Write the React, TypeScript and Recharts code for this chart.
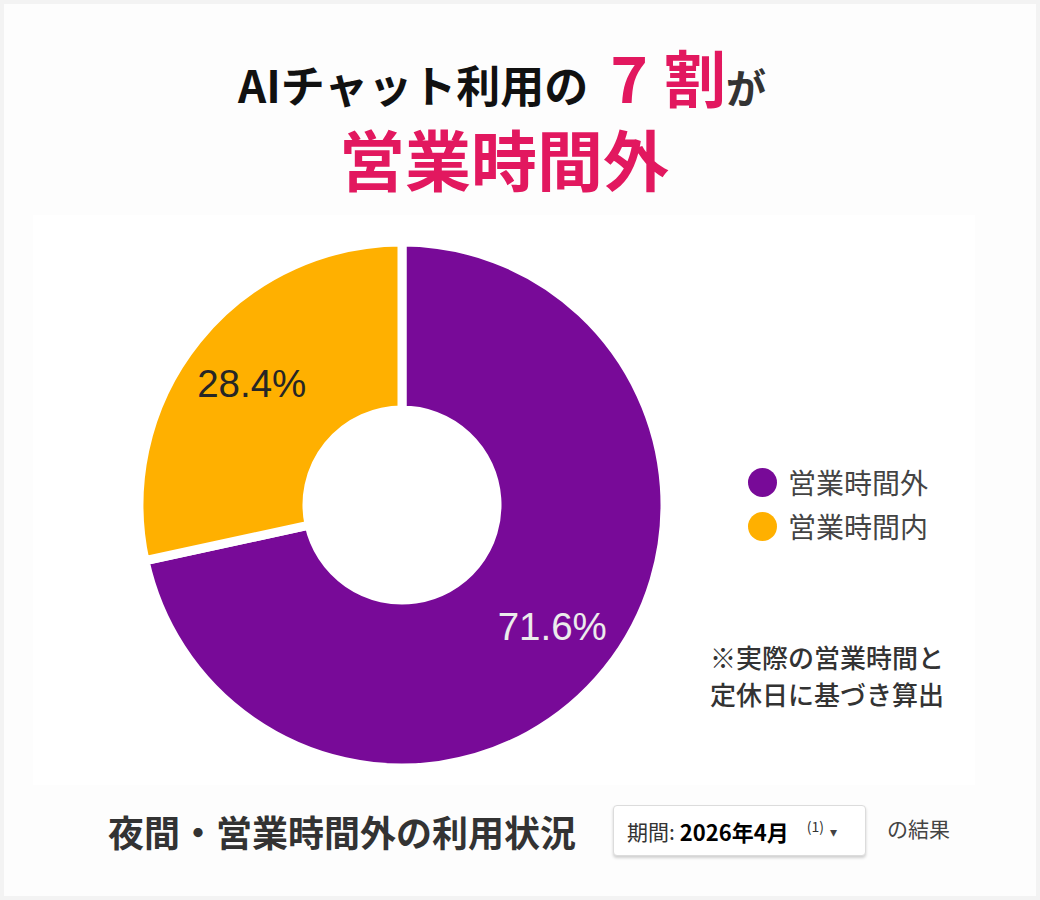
import React from 'react';
import { PieChart, Pie, Cell, Legend } from 'recharts';

// share of AI chat usage, in percent
const categories = ['営業時間外', '営業時間内'];
const shares = [71.6, 28.4];
const sliceColors = ['#780a98', '#ffb000'];
const labelColors = ['#ececec', '#262626'];

const JP = '"Noto Sans CJK JP", "Noto Sans", sans-serif';
const PINK = '#e2185f';
const RAD = Math.PI / 180;

const data = categories.map((name, i) => ({ name, value: shares[i] }));

const renderLabel = (props: any) => {
  const { cx, cy, midAngle, index, value } = props;
  const r = 193;
  const x = cx + r * Math.cos(-midAngle * RAD);
  const y = cy + r * Math.sin(-midAngle * RAD);
  return (
    <text
      x={x}
      y={y}
      fill={labelColors[index]}
      textAnchor="middle"
      dominantBaseline="central"
      fontFamily='"Liberation Sans", Arial, sans-serif'
      fontSize={38.5}
    >
      {value.toFixed(1)}%
    </text>
  );
};

const LegendList = (props: any) => {
  const items = [...(props.payload || [])].sort(
    (a: any, b: any) => categories.indexOf(a.value) - categories.indexOf(b.value)
  );
  return (
    <div>
      {items.map((p: any) => {
        const i = categories.indexOf(p.value);
        return (
          <div key={p.value} style={{ display: 'flex', alignItems: 'center', height: 44 }}>
            <span
              style={{
                width: 29,
                height: 29,
                borderRadius: '50%',
                background: sliceColors[i],
                marginRight: 11,
                display: 'inline-block',
              }}
            />
            <span style={{ fontSize: 28, color: '#444', fontFamily: JP, lineHeight: 1 }}>{p.value}</span>
          </div>
        );
      })}
    </div>
  );
};

export default function App() {
  return (
    <div
      style={{
        position: 'absolute',
        left: 0,
        top: 0,
        width: 1040,
        height: 900,
        background: '#f3f3f3',
        fontFamily: JP,
      }}
    >
      <div style={{ position: 'absolute', left: 4, top: 4, width: 1032, height: 892, background: '#fdfdfd' }} />
      <div style={{ position: 'absolute', left: 33, top: 215, width: 942, height: 570, background: '#ffffff' }} />

      {/* headline */}
      <div
        style={{
          position: 'absolute',
          left: -3,
          top: 50,
          width: 1010,
          display: 'flex',
          justifyContent: 'center',
          alignItems: 'baseline',
          fontWeight: 700,
          whiteSpace: 'nowrap',
          lineHeight: 0.8,
        }}
      >
        <span style={{ fontSize: 44, color: '#111' }}>AIチャット利用の</span>
        <span style={{ fontSize: 64, color: PINK, marginLeft: 22 }}>7</span>
        <span style={{ fontSize: 62, color: PINK, marginLeft: 16 }}>割</span>
        <span style={{ fontSize: 40, color: '#333' }}>が</span>
      </div>
      <div
        style={{
          position: 'absolute',
          left: 0,
          top: 124,
          width: 1008,
          textAlign: 'center',
          fontSize: 66,
          fontWeight: 700,
          color: PINK,
          lineHeight: 1,
        }}
      >
        営業時間外
      </div>

      <div style={{ position: 'absolute', left: 0, top: 0 }}>
        <PieChart width={1040} height={900} margin={{ top: 0, right: 0, bottom: 0, left: 0 }}>
          <Pie
            data={data}
            dataKey="value"
            nameKey="name"
            cx={402}
            cy={505}
            innerRadius={95}
            outerRadius={263}
            startAngle={90}
            endAngle={-270}
            stroke="#ffffff"
            strokeWidth={9}
            label={renderLabel}
            labelLine={false}
            isAnimationActive={false}
          >
            {data.map((d, i) => (
              <Cell key={d.name} fill={sliceColors[i]} />
            ))}
          </Pie>
          <Legend
            layout="vertical"
            content={LegendList}
            wrapperStyle={{ left: 748, top: 460, width: 240, bottom: 'auto', right: 'auto' }}
          />
        </PieChart>
      </div>

      {/* note */}
      <div
        style={{
          position: 'absolute',
          left: 710,
          top: 638,
          fontSize: 26,
          lineHeight: '37px',
          color: '#333',
          fontWeight: 500,
        }}
      >
        ※実際の営業時間と
        <br />
        定休日に基づき算出
      </div>

      {/* footer */}
      <div
        style={{
          position: 'absolute',
          left: 108,
          top: 810,
          fontSize: 36,
          fontWeight: 700,
          color: '#333',
          lineHeight: 1.2,
          whiteSpace: 'nowrap',
        }}
      >
        夜間・営業時間外の利用状況
      </div>
      <div
        style={{
          position: 'absolute',
          left: 613,
          top: 805,
          width: 251,
          height: 49,
          background: '#fff',
          border: '1px solid #dcdcdc',
          borderRadius: 4,
          boxShadow: '0 2px 3px rgba(0,0,0,0.18)',
          display: 'flex',
          alignItems: 'center',
          whiteSpace: 'nowrap',
          color: '#222',
        }}
      >
        <span style={{ marginLeft: 13, fontSize: 21, color: '#333' }}>期間:</span>
        <span style={{ marginLeft: 5, fontSize: 22, fontWeight: 700, color: '#000' }}>2026年4月</span>
        <span style={{ marginLeft: 18, fontSize: 14, color: '#333', alignSelf: 'flex-start', marginTop: 10 }}>(1)</span>
        <span style={{ marginLeft: 6, fontSize: 14, color: '#444' }}>▾</span>
      </div>
      <div style={{ position: 'absolute', left: 887, top: 816, fontSize: 21, color: '#444', lineHeight: 1.2 }}>
        の結果
      </div>
    </div>
  );
}
